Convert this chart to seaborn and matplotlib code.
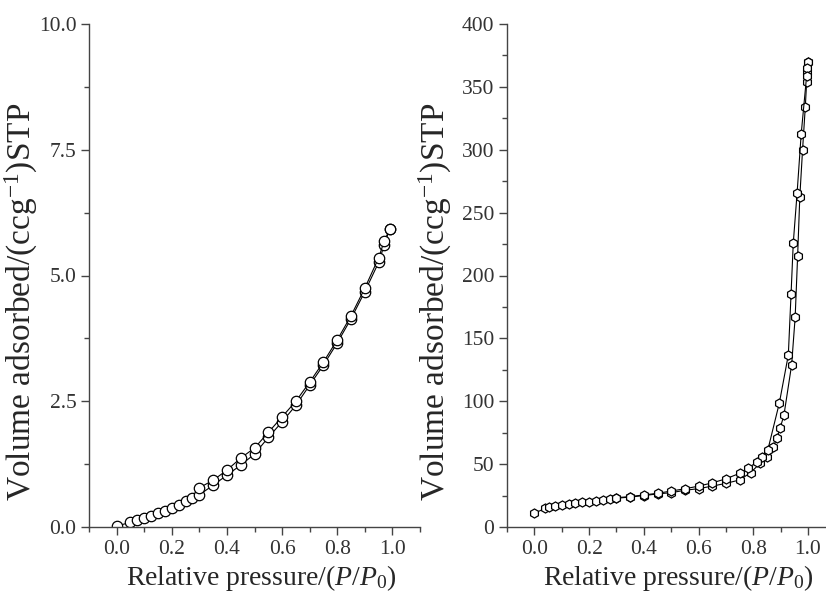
import numpy as np
import pandas as pd
import seaborn as sns
import matplotlib.pyplot as plt
from matplotlib.ticker import MultipleLocator

# left panel: adsorption / desorption branches
left_ads_p = [0.0, 0.05, 0.075, 0.1, 0.125, 0.15, 0.175, 0.2, 0.225, 0.25, 0.275, 0.3,
              0.35, 0.4, 0.45, 0.5, 0.55, 0.6, 0.65, 0.7, 0.75, 0.8, 0.85, 0.9, 0.95, 0.97, 0.99]
left_ads_v = [0.02, 0.09, 0.14, 0.18, 0.22, 0.28, 0.32, 0.37, 0.44, 0.52, 0.58, 0.64,
              0.83, 1.03, 1.23, 1.45, 1.78, 2.09, 2.42, 2.82, 3.22, 3.66, 4.14, 4.68, 5.26, 5.6, 5.92]
left_des_p = [0.99, 0.97, 0.95, 0.9, 0.85, 0.8, 0.75, 0.7, 0.65, 0.6, 0.55, 0.5, 0.45, 0.4, 0.35, 0.3]
left_des_v = [5.92, 5.68, 5.35, 4.75, 4.2, 3.72, 3.28, 2.88, 2.5, 2.19, 1.88, 1.57, 1.37, 1.13, 0.93, 0.78]

# right panel
right_ads_p = [0.0, 0.04, 0.055, 0.075, 0.1, 0.125, 0.15, 0.175, 0.2, 0.225, 0.25, 0.275, 0.3,
               0.35, 0.4, 0.45, 0.5, 0.55, 0.6, 0.65, 0.7, 0.75, 0.79, 0.825, 0.85, 0.873,
               0.886, 0.898, 0.912, 0.94, 0.953, 0.962, 0.97, 0.98, 0.99, 0.995, 0.997, 0.999]
right_ads_v = [10.9, 14.9, 15.7, 16.7, 17.5, 18.3, 18.9, 19.6, 20.1, 20.9, 21.5, 22.1, 22.9,
               23.8, 25.0, 26.3, 27.3, 29.2, 30.5, 32.5, 34.7, 37.4, 43.2, 50.7, 55.9, 63.8,
               70.5, 78.5, 89.0, 128.8, 166.8, 215.5, 262.7, 299.8, 334.0, 354.0, 362.0, 370.0]
right_des_p = [0.999, 0.997, 0.995, 0.975, 0.96, 0.946, 0.938, 0.928, 0.895, 0.853, 0.83, 0.815,
               0.78, 0.75, 0.7, 0.65, 0.6, 0.55, 0.5, 0.45, 0.4, 0.35, 0.3]
right_des_v = [370.0, 365.0, 359.0, 312.5, 265.4, 225.6, 185.3, 136.8, 98.4, 61.2, 55.9, 51.9,
               46.7, 42.7, 38.3, 35.1, 32.5, 30.4, 28.6, 26.8, 25.5, 24.2, 23.3]

sns.set_style('ticks')
plt.rcParams['font.family'] = ['Liberation Serif', 'DejaVu Serif']
plt.rcParams['mathtext.fontset'] = 'custom'
plt.rcParams['mathtext.rm'] = 'Liberation Serif'
plt.rcParams['mathtext.it'] = 'Liberation Serif:italic'

fig = plt.figure(figsize=(8.26, 5.96), dpi=100)
ax1 = fig.add_axes([89 / 826, 1 - 527 / 596, (420 - 89) / 826, (527 - 24) / 596])
ax2 = fig.add_axes([507 / 826, 1 - 527 / 596, (826 - 507) / 826, (527 - 24) / 596])

line_kw = dict(color='black', lw=0.8, sort=False, estimator=None, mfc='white', mec='black', mew=0.9)
for p, v in [(left_ads_p, left_ads_v), (left_des_p, left_des_v)]:
    sns.lineplot(x=p, y=v, ax=ax1, marker='o', markersize=7.5, **line_kw)
for p, v in [(right_ads_p, right_ads_v), (right_des_p, right_des_v)]:
    sns.lineplot(x=p, y=v, ax=ax2, marker='h', markersize=6.5, **line_kw)

ax1.set_xlim(-0.1, 1.1)
ax1.set_ylim(0, 10)
ax1.yaxis.set_major_locator(MultipleLocator(2.5))
ax1.yaxis.set_minor_locator(MultipleLocator(1.25))
ax1.yaxis.set_major_formatter(plt.FormatStrFormatter('%.1f'))

ax2.set_xlim(-0.1, (826 - 534) / 274)
ax2.set_ylim(0, 400)
ax2.yaxis.set_major_locator(MultipleLocator(50))
ax2.yaxis.set_minor_locator(MultipleLocator(25))

for ax in (ax1, ax2):
    ax.xaxis.set_major_locator(MultipleLocator(0.2))
    ax.xaxis.set_minor_locator(MultipleLocator(0.1))
    ax.xaxis.set_major_formatter(plt.FormatStrFormatter('%.1f'))
    sns.despine(ax=ax)
    for s in ('left', 'bottom'):
        ax.spines[s].set_color('#444444')
        ax.spines[s].set_linewidth(1.0)
    ax.tick_params(which='major', length=6, width=1.0, color='#444444',
                   labelsize=15.5, labelcolor='#333333', pad=3)
    ax.tick_params(which='minor', length=3.5, width=1.0, color='#444444')
    ax.set_xlabel('Relative pressure/($P$/$P_0$)', fontsize=20)
    ax.set_ylabel('Volume adsorbed/(ccg$^{-1}$)STP', fontsize=24)

ax1.xaxis.set_label_coords(0.52, -0.072)
ax1.yaxis.set_label_coords(-0.148, 0.447)
ax2.xaxis.set_label_coords(0.536, -0.072)
ax2.yaxis.set_label_coords(-0.165, 0.447)

fig.savefig('out.png', dpi=100)
